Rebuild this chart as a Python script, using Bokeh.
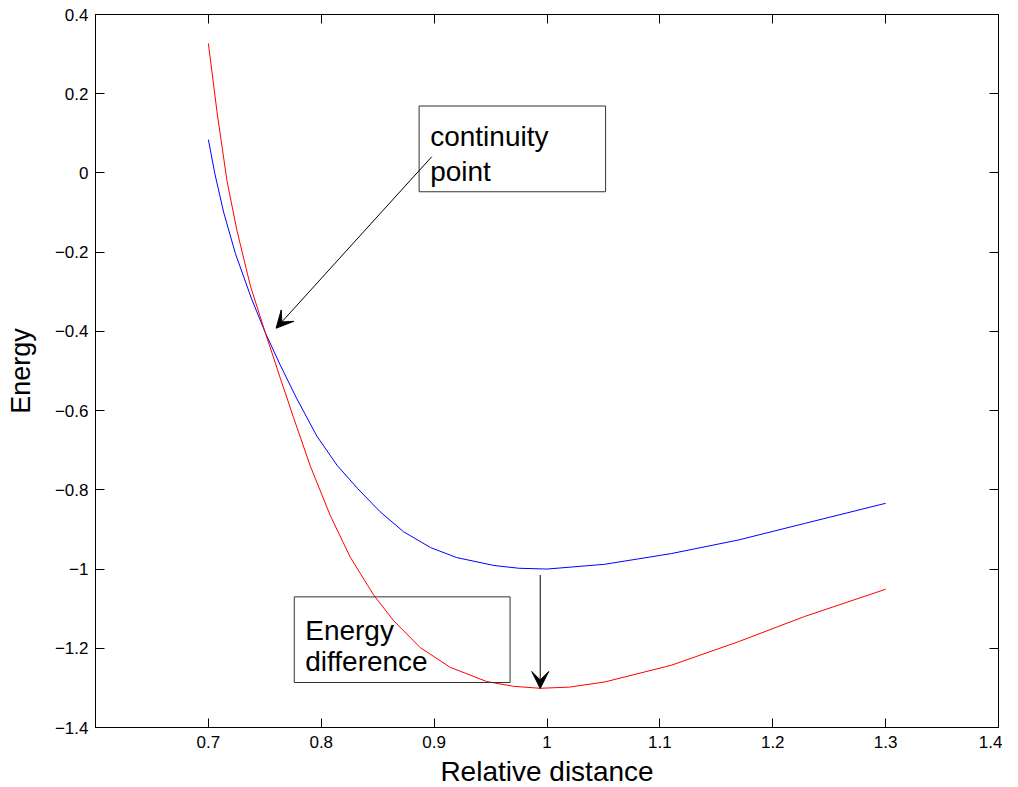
from bokeh.plotting import figure
from bokeh.models import Range1d, LinearAxis, FixedTicker, Arrow, VeeHead, BoxAnnotation, Label
from bokeh.embed import file_html
from bokeh.resources import INLINE

# ---- data ----
blue_x = [0.700, 0.7056, 0.7135, 0.7239, 0.7383, 0.7504, 0.764, 0.778, 0.796, 0.814,
          0.832, 0.852, 0.873, 0.897, 0.920, 0.953, 0.975, 1.000, 1.051, 1.110,
          1.169, 1.228, 1.300]
blue_y = [0.084, 0.000, -0.099, -0.203, -0.318, -0.403, -0.487, -0.568, -0.664, -0.738,
          -0.796, -0.855, -0.906, -0.946, -0.971, -0.991, -0.998, -1.000, -0.988, -0.961,
          -0.927, -0.885, -0.834]

red_x = [0.700, 0.7076, 0.7165, 0.7253, 0.7372, 0.7504, 0.7637, 0.7755, 0.7903, 0.808,
         0.8257, 0.8463, 0.864, 0.8876, 0.9142, 0.9466, 0.9702, 0.994, 1.020, 1.0513,
         1.110, 1.169, 1.228, 1.300]
red_y = [0.327, 0.155, -0.020, -0.145, -0.285, -0.403, -0.518, -0.618, -0.740, -0.865,
         -0.970, -1.065, -1.130, -1.198, -1.248, -1.284, -1.296, -1.301, -1.298, -1.285,
         -1.243, -1.184, -1.120, -1.051]

x_ticks = [0.7, 0.8, 0.9, 1.0, 1.1, 1.2, 1.3, 1.4]
x_tick_labels = ["0.7", "0.8", "0.9", "1", "1.1", "1.2", "1.3", "1.4"]
y_ticks = [-1.4, -1.2, -1.0, -0.8, -0.6, -0.4, -0.2, 0.0, 0.2, 0.4]
y_tick_labels = ["\u22121.4", "\u22121.2", "\u22121", "\u22120.8", "\u22120.6",
                 "\u22120.4", "\u22120.2", "0", "0.2", "0.4"]

FONT = "Liberation Sans"

p = figure(frame_width=903, frame_height=713, output_backend="svg", toolbar_location=None,
           x_range=Range1d(0.6, 1.4), y_range=Range1d(-1.4, 0.4),
           min_border_left=95, min_border_right=4, min_border_top=14, min_border_bottom=40)
p.background_fill_color = "white"
p.border_fill_color = "white"
p.grid.visible = False
p.outline_line_color = "black"
p.outline_line_width = 1

p.line(blue_x, blue_y, line_color="#0000ff", line_width=1)
p.line(red_x, red_y, line_color="#ff0000", line_width=1)

def style_axis(ax, ticks, labels, show_labels=True):
    ax.ticker = FixedTicker(ticks=ticks)
    ax.major_tick_in = 9
    ax.major_tick_out = 0
    ax.minor_tick_in = 0
    ax.minor_tick_out = 0
    ax.axis_line_color = "black"
    ax.major_tick_line_color = "black"
    ax.major_label_text_font = FONT
    if show_labels:
        ax.major_label_overrides = {t: l for t, l in zip(ticks, labels)}
        ax.major_label_text_font_size = "17px"
        ax.major_label_text_color = "black"
    else:
        ax.major_label_text_font_size = "1px"
        ax.major_label_text_color = None
        ax.major_label_standoff = 0

xa = p.xaxis[0]
style_axis(xa, x_ticks, x_tick_labels)
xa.major_label_standoff = 8
xa.axis_label = "Relative distance"
xa.axis_label_text_font = FONT
xa.axis_label_text_font_size = "28px"
xa.axis_label_text_font_style = "normal"
xa.axis_label_text_color = "black"
xa.axis_label_standoff = 5

ya = p.yaxis[0]
style_axis(ya, y_ticks, y_tick_labels)
ya.major_label_standoff = 7
ya.axis_label = "Energy"
ya.axis_label_text_font = FONT
ya.axis_label_text_font_size = "27px"
ya.axis_label_text_font_style = "normal"
ya.axis_label_text_color = "black"
ya.axis_label_standoff = 16

top = LinearAxis()
style_axis(top, x_ticks, x_tick_labels, show_labels=False)
p.add_layout(top, "above")
right = LinearAxis()
style_axis(right, y_ticks, y_tick_labels, show_labels=False)
p.add_layout(right, "right")

# ---- annotations ----
p.add_layout(BoxAnnotation(left=0.8867, right=1.0519, bottom=-0.0475, top=0.169,
                           fill_alpha=0, line_color="#333333", line_alpha=1, line_width=1))
p.add_layout(BoxAnnotation(left=0.7761, right=0.9673, bottom=-1.2864, top=-1.0702,
                           fill_alpha=0, line_color="#333333", line_alpha=1, line_width=1))

for txt, x, y in [("continuity", 0.8965, 0.0914), ("point", 0.8965, 0.003),
                  ("Energy", 0.7858, -1.1543), ("difference", 0.7858, -1.2343)]:
    p.add_layout(Label(x=x, y=y, text=txt, text_font=FONT, text_font_size="28px",
                       text_color="black", text_baseline="alphabetic", text_align="left"))

p.add_layout(Arrow(x_start=0.8979, y_start=0.041, x_end=0.760, y_end=-0.392,
                   line_color="black", line_width=1,
                   end=VeeHead(size=17, fill_color="black", line_color="black", line_width=1)))
p.add_layout(Arrow(x_start=0.994, y_start=-1.015, x_end=0.994, y_end=-1.3015,
                   line_color="black", line_width=1,
                   end=VeeHead(size=17, fill_color="black", line_color="black", line_width=1)))

open("out.html", "w").write(file_html(p, INLINE))
